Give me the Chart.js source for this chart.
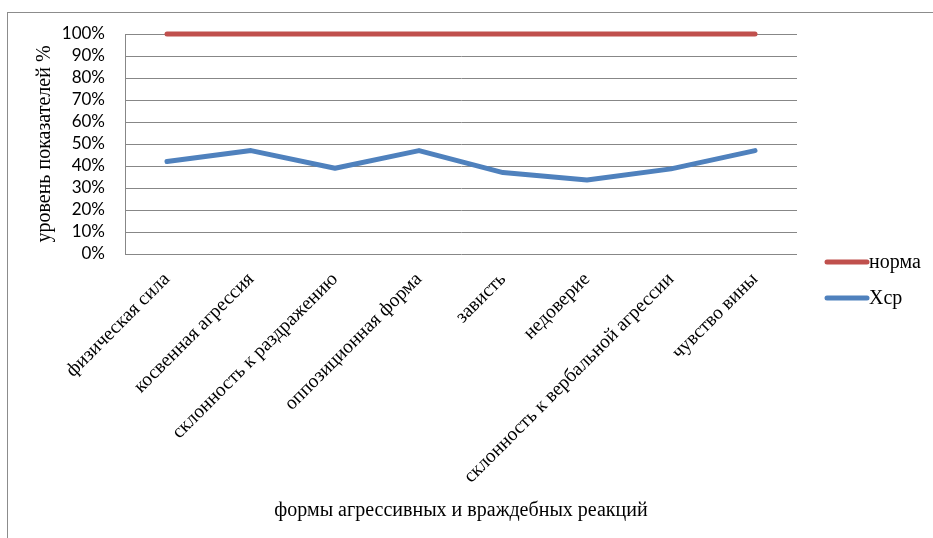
<!DOCTYPE html>
<html lang="ru">
<head>
<meta charset="utf-8">
<title>Формы агрессивных и враждебных реакций</title>
<script src="https://cdn.jsdelivr.net/npm/chart.js@4.4.1/dist/chart.umd.min.js"></script>
<style>
    html, body { margin: 0; padding: 0; background: #fff; }
    #wrap { position: relative; width: 933px; height: 538px; overflow: hidden; }
    /* рамка диаграммы (видны только верхний и левый края) */
    #frame { position: absolute; left: 7px; top: 12px; width: 1000px; height: 600px;
             border-top: 1px solid #8c8c8c; border-left: 1px solid #8c8c8c; }
    #chart { position: absolute; left: 0; top: 0; }
</style>
</head>
<body>
<div id="wrap">
    <div id="frame"></div>
    <canvas id="chart" width="933" height="538"></canvas>
</div>
<script>
// Категории (формы агрессивных и враждебных реакций)
const categories = [
    'физическая сила',
    'косвенная агрессия',
    'склонность к раздражению',
    'оппозиционная форма',
    'зависть',
    'недоверие',
    'склонность к вербальной агрессии',
    'чувство вины'
];

// Ряды данных, %
const normaValues = [100, 100, 100, 100, 100, 100, 100, 100];
const xcpValues = [42, 47, 39, 47, 37, 33.6, 38.7, 47];

// Подписи оси Y
const yTicks = [0, 10, 20, 30, 40, 50, 60, 70, 80, 90, 100];

const serif = '"Liberation Serif", "Times New Roman", serif';
const sans = 'Lato, "Open Sans", sans-serif';
const gridColor = '#878787';

// Легенда справа, как в Excel
const sideLegend = {
    id: 'sideLegend',
    afterDraw: function(chart) {
        const ctx = chart.ctx;
        const rows = [262, 298];
        ctx.save();
        chart.data.datasets.forEach(function(ds, i) {
            const y = rows[i];
            ctx.beginPath();
            ctx.lineWidth = 5;
            ctx.lineCap = 'round';
            ctx.strokeStyle = ds.borderColor;
            ctx.moveTo(827, y);
            ctx.lineTo(867, y);
            ctx.stroke();
            ctx.fillStyle = '#000';
            ctx.font = '20px ' + serif;
            ctx.textBaseline = 'middle';
            ctx.textAlign = 'left';
            ctx.fillText(ds.label, 869, y + 1);
        });
        ctx.restore();
    }
};

const ctx = document.getElementById('chart').getContext('2d');
new Chart(ctx, {
    type: 'line',
    data: {
        labels: categories,
        datasets: [
            {
                label: 'норма',
                data: normaValues,
                borderColor: '#C0504D',
                borderWidth: 5,
                borderCapStyle: 'round',
                pointRadius: 0,
                tension: 0,
                clip: false
            },
            {
                label: 'Xср',
                data: xcpValues,
                borderColor: '#4F81BD',
                borderWidth: 5,
                borderCapStyle: 'round',
                borderJoinStyle: 'round',
                pointRadius: 0,
                tension: 0,
                clip: false
            }
        ]
    },
    options: {
        responsive: false,
        animation: false,
        layout: {
            padding: { left: 0, top: 34, right: 136, bottom: 0 }
        },
        plugins: {
            legend: { display: false },
            tooltip: { enabled: false }
        },
        scales: {
            x: {
                offset: true,
                grid: { display: false },
                border: { display: false },
                ticks: {
                    autoSkip: false,
                    maxRotation: 45,
                    minRotation: 45,
                    padding: 6,
                    color: '#000',
                    font: { family: serif, size: 19.5 }
                },
                title: {
                    display: true,
                    text: 'формы агрессивных и враждебных реакций',
                    color: '#000',
                    font: { family: serif, size: 20 },
                    padding: { top: 0, bottom: 15 }
                },
                afterFit: function(scale) { scale.height = 538 - 254; }
            },
            y: {
                min: 0,
                max: 100,
                afterBuildTicks: function(scale) {
                    scale.ticks = yTicks.map(function(v) { return { value: v }; });
                },
                grid: { color: gridColor, lineWidth: 1, drawTicks: false },
                border: { display: true, color: gridColor, width: 1 },
                ticks: {
                    autoSkip: false,
                    padding: 20,
                    color: '#000',
                    font: { family: sans, size: 17 },
                    callback: function(v) { return v + '%'; }
                },
                title: {
                    display: true,
                    text: 'уровень показателей %',
                    color: '#000',
                    font: { family: serif, size: 20 },
                    padding: { top: 33, bottom: 0 }
                },
                afterFit: function(scale) { scale.width = 125; }
            }
        }
    },
    plugins: [sideLegend]
});
</script>
</body>
</html>
